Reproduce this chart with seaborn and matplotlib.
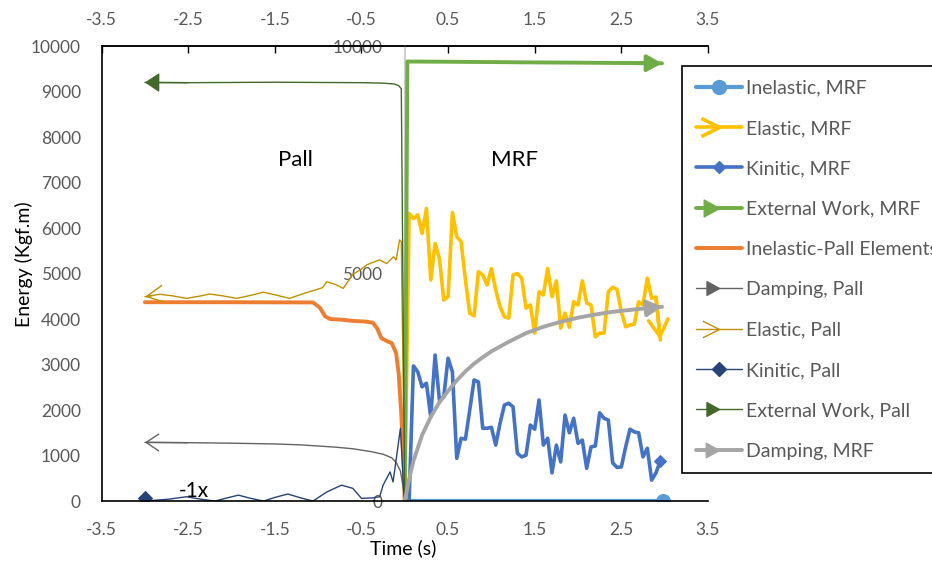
import numpy as np
import matplotlib
matplotlib.use('Agg')
import matplotlib.pyplot as plt
from matplotlib.lines import Line2D
from matplotlib.path import Path
from matplotlib.legend_handler import HandlerLine2D
import seaborn as sns

sns.set_theme(style='white')
plt.rcParams['font.family'] = ['Lato', 'DejaVu Sans']
plt.rcParams['axes.unicode_minus'] = False

# ---- MRF series (time >= 0) ----
t_mrf = np.round(np.arange(60) * 0.05, 2)
elastic_mrf = [0, 6320, 6210, 6290, 5880, 6430, 4860, 5660, 5330, 4420, 4490,
               6340, 5810, 5700, 4860, 4130, 4070, 5040, 4970, 4750, 5110,
               4640, 4270, 4050, 4020, 4970, 5000, 4900, 4240, 4310, 3690,
               4600, 4530, 5110, 4490, 4840, 3800, 4130, 3820, 4380, 4310,
               4840, 4350, 4310, 3610, 3690, 3690, 4600, 4700, 4650, 4160,
               3830, 3870, 3890, 4380, 4310, 4900, 4460, 4480, 3540]
kinetic_mrf = [0, 0, 2970, 2840, 2510, 2590, 1850, 3210, 2220, 2290, 3140, 2840,
               940, 1380, 1360, 2000, 2660, 2620, 1600, 1600, 1620, 1230,
               1710, 2110, 2150, 2070, 1050, 970, 1010, 1670, 1580, 2220,
               1230, 1380, 620, 1230, 860, 1890, 1500, 1820, 1270, 1340,
               720, 1190, 1210, 1940, 1820, 1780, 840, 740, 750, 1190,
               1580, 1520, 1500, 970, 1160, 460, 620, 880]

t_inel_mrf = [0, 2.98]
inel_mrf = [0, 0]

t_ext_mrf = [0, 0.03, 0.5, 1.0, 1.5, 2.0, 2.5, 2.97]
ext_mrf = [0, 9660, 9655, 9648, 9640, 9635, 9628, 9620]

t_damp_mrf = [0, 0.05, 0.1, 0.2, 0.3, 0.4, 0.5, 0.6, 0.7, 0.8, 0.9, 1.0,
              1.2, 1.4, 1.6, 1.8, 2.0, 2.2, 2.4, 2.6, 2.8, 2.97]
damp_mrf = [0, 480, 880, 1450, 1850, 2170, 2420, 2650, 2850, 3020, 3160, 3290,
            3500, 3690, 3830, 3940, 4030, 4100, 4160, 4200, 4240, 4270]

# ---- Pall series (plotted at -1x time) ----
t_inel_pall = [-3.0, -2.0, -1.06, -0.98, -0.92, -0.86, -0.72, -0.6, -0.45, -0.37,
               -0.32, -0.27, -0.2, -0.15, -0.1, -0.07, -0.04, -0.01, 0]
inel_pall = [4370, 4370, 4365, 4250, 4060, 4000, 3985, 3960, 3945, 3920,
             3800, 3580, 3510, 3470, 3250, 2800, 1900, 700, 0]

t_el_pall = [-3.0, -2.92, -2.83, -2.68, -2.52, -2.38, -2.25, -2.1, -1.94, -1.78,
             -1.63, -1.48, -1.33, -1.2, -1.1, -0.95, -0.9, -0.8, -0.71, -0.6,
             -0.5, -0.44, -0.35, -0.29, -0.21, -0.13, -0.1, -0.06, -0.04, 0]
el_pall = [4490, 4515, 4545, 4510, 4455, 4500, 4550, 4510, 4455, 4520,
           4590, 4525, 4455, 4540, 4600, 4690, 4820, 4760, 4675, 4980,
           5100, 5190, 5260, 5300, 5220, 5370, 5300, 5740, 5700, 0]

t_damp_pall = [-3.0, -2.5, -2.0, -1.5, -1.2, -1.0, -0.8, -0.6, -0.4, -0.25,
               -0.15, -0.1, -0.05, -0.02, 0]
damp_pall = [1290, 1283, 1272, 1255, 1235, 1210, 1185, 1150, 1090, 1030,
             950, 850, 660, 330, 0]

t_kin_pall = [-3.0, -2.94, -2.73, -2.52, -2.35, -2.19, -2.05, -1.92, -1.78, -1.63,
              -1.5, -1.35, -1.2, -1.06, -0.9, -0.73, -0.6, -0.5, -0.37, -0.29,
              -0.25, -0.17, -0.135, -0.05, -0.01, 0]
kin_pall = [60, 10, 40, 95, 40, 0, 70, 130, 60, 0,
            80, 155, 70, 0, 200, 350, 280, 60, 70, 95,
            350, 640, 420, 1600, 160, 0]

t_ext_pall = [-3.0, -2.5, -2.0, -1.5, -1.0, -0.5, -0.25, -0.12, -0.07, -0.04, 0]
ext_pall = [9200, 9195, 9200, 9205, 9200, 9195, 9185, 9165, 9130, 9060, 0]

x_ticks = [-3.5, -2.5, -1.5, -0.5, 0.5, 1.5, 2.5, 3.5]
y_ticks = [0, 1000, 2000, 3000, 4000, 5000, 6000, 7000, 8000, 9000, 10000]

C_INEL_MRF = '#5B9BD5'
C_EL_MRF = '#FFC000'
C_KIN_MRF = '#4472C4'
C_EXT_MRF = '#70AD47'
C_INEL_PALL = '#ED7D31'
C_DAMP_PALL = '#636363'
C_EL_PALL = '#BF9000'
C_KIN_PALL = '#264478'
C_EXT_PALL = '#43682B'
C_DAMP_MRF = '#A5A5A5'
GREY_TXT = '#595959'

fig = plt.figure(figsize=(9.32, 5.63), dpi=100)
ax = fig.add_axes([0.109, 0.110, 0.6506, 0.8082])


def line(t, v, color, lw, **kw):
    sns.lineplot(x=t, y=v, ax=ax, color=color, linewidth=lw, estimator=None,
                 sort=False, solid_joinstyle='round', **kw)


def arrow(t, v, color, lw, style, at_end=True, hl=0.4, hw=0.25):
    if at_end:
        xy, xyt = (t[-1], v[-1]), (t[-2], v[-2])
    else:
        xy, xyt = (t[0], v[0]), (t[1], v[1])
    ax.annotate('', xy=xy, xytext=xyt,
                arrowprops=dict(arrowstyle=f'{style},head_length={hl},head_width={hw}',
                                color=color, lw=lw, shrinkA=0, shrinkB=0,
                                mutation_scale=20))


line(t_inel_mrf, inel_mrf, C_INEL_MRF, 3, marker='o', markevery=[-1],
     markersize=10, mec=C_INEL_MRF, mfc=C_INEL_MRF)
line(t_mrf, elastic_mrf, C_EL_MRF, 2.6)
arrow(t_mrf, elastic_mrf, C_EL_MRF, 2.6, '->', hl=0.6, hw=0.35)
line(t_mrf, kinetic_mrf, C_KIN_MRF, 2.6, marker='D', markevery=[-1],
     markersize=6, mec=C_KIN_MRF, mfc=C_KIN_MRF)
line(t_ext_mrf, ext_mrf, C_EXT_MRF, 2.8)
arrow(t_ext_mrf, ext_mrf, C_EXT_MRF, 2.8, '-|>', hl=0.45, hw=0.25)
line(t_inel_pall, inel_pall, C_INEL_PALL, 2.8)
line(t_damp_pall, damp_pall, C_DAMP_PALL, 1.0)
arrow(t_damp_pall, damp_pall, C_DAMP_PALL, 1.0, '->', at_end=False, hl=0.45, hw=0.3)
line(t_el_pall, el_pall, C_EL_PALL, 1.0)
arrow(t_el_pall, el_pall, C_EL_PALL, 1.0, '->', at_end=False, hl=0.6, hw=0.3)
line(t_kin_pall, kin_pall, C_KIN_PALL, 1.0, marker='D', markevery=[0],
     markersize=7, mec=C_KIN_PALL, mfc=C_KIN_PALL)
line(t_ext_pall, ext_pall, C_EXT_PALL, 1.0)
arrow(t_ext_pall, ext_pall, C_EXT_PALL, 1.0, '-|>', at_end=False, hl=0.45, hw=0.3)
line(t_damp_mrf, damp_mrf, C_DAMP_MRF, 2.8)
arrow(t_damp_mrf, damp_mrf, C_DAMP_MRF, 2.8, '-|>', hl=0.45, hw=0.25)

ax.set_xlim(-3.5, 3.5)
ax.set_ylim(0, 10000)
ax.set_xticks(x_ticks)
ax.set_yticks(y_ticks)
ax.tick_params(direction='in', length=5, width=1, color='black',
               labelcolor=GREY_TXT, labelsize=12.5, pad=15)
for s in ['left', 'bottom', 'top']:
    ax.spines[s].set_color('black')
    ax.spines[s].set_linewidth(1.2)
ax.spines['right'].set_visible(False)

top = ax.secondary_xaxis('top')
top.set_xticks(x_ticks)
top.tick_params(direction='in', length=5, width=1, color='black',
                labelcolor=GREY_TXT, labelsize=12.5, pad=13)
top.spines['top'].set_linewidth(1.2)

# secondary vertical axis at time 0
mid = ax.secondary_yaxis(0.5)
mid.set_alignment('left')
mid.set_yticks([0, 5000, 10000])
mid.tick_params(length=0, labelcolor=GREY_TXT, labelsize=12.5, pad=16)
mid.spines['left'].set_color('#D0D0D0')
mid.spines['left'].set_linewidth(1.5)

ax.set_ylabel('Energy (Kgf.m)', fontsize=14, color='black')
ax.yaxis.set_label_coords(-0.113, 0.52)
ax.set_xlabel('Time (s)', fontsize=14, color='black', va='top')
ax.xaxis.set_label_coords(0.497, -0.083)

ax.text(-1.26, 7495, 'Pall', ha='center', va='center', fontsize=16, color='black')
ax.text(1.27, 7495, 'MRF', ha='center', va='center', fontsize=16, color='black')
ax.text(-2.43, 220, '-1x', ha='center', va='center', fontsize=15, color='black')


class EndMarker(HandlerLine2D):
    def get_xdata(self, legend, xdescent, ydescent, width, height, fontsize):
        xd = np.array([-xdescent, -xdescent + width])
        return xd, np.array([-xdescent + width])


CHEV = Path([(-1, 0.5), (0, 0), (-1, -0.5)], [Path.MOVETO, Path.LINETO, Path.LINETO])
TRI = Path([(-1, 0.55), (0, 0), (-1, -0.55), (-1, 0.55)],
           [Path.MOVETO, Path.LINETO, Path.LINETO, Path.CLOSEPOLY])

handles = [
    Line2D([], [], color=C_INEL_MRF, lw=3, marker='o', ms=10, mfc=C_INEL_MRF, mec=C_INEL_MRF),
    Line2D([], [], color=C_EL_MRF, lw=2.6, marker=CHEV, ms=26, mfc='none', mec=C_EL_MRF, mew=2.6),
    Line2D([], [], color=C_KIN_MRF, lw=2.6, marker='D', ms=6, mfc=C_KIN_MRF, mec=C_KIN_MRF),
    Line2D([], [], color=C_EXT_MRF, lw=2.8, marker=TRI, ms=22, mfc=C_EXT_MRF, mec=C_EXT_MRF),
    Line2D([], [], color=C_INEL_PALL, lw=2.8),
    Line2D([], [], color=C_DAMP_PALL, lw=1.0, marker=TRI, ms=18, mfc=C_DAMP_PALL, mec=C_DAMP_PALL),
    Line2D([], [], color=C_EL_PALL, lw=1.0, marker=CHEV, ms=24, mfc='none', mec=C_EL_PALL, mew=1.0),
    Line2D([], [], color=C_KIN_PALL, lw=1.0, marker='D', ms=7, mfc=C_KIN_PALL, mec=C_KIN_PALL),
    Line2D([], [], color=C_EXT_PALL, lw=1.0, marker=TRI, ms=18, mfc=C_EXT_PALL, mec=C_EXT_PALL),
    Line2D([], [], color=C_DAMP_MRF, lw=2.8, marker=TRI, ms=19, mfc=C_DAMP_MRF, mec=C_DAMP_MRF),
]
labels = ['Inelastic, MRF', 'Elastic, MRF', 'Kinitic, MRF', 'External Work, MRF',
          'Inelastic-Pall Elements', 'Damping, Pall', 'Elastic, Pall',
          'Kinitic, Pall', 'External Work, Pall', 'Damping, MRF']

leg = ax.legend(handles, labels, loc='upper left',
                bbox_to_anchor=(682 / 932, 1 - 66 / 563), bbox_transform=fig.transFigure,
                borderaxespad=0, frameon=True, fancybox=False, framealpha=1,
                edgecolor='black', fontsize=14, labelcolor=GREY_TXT,
                handlelength=2.4, handletextpad=0.2, borderpad=0.7,
                labelspacing=1.2, handler_map={Line2D: EndMarker()})
leg.get_frame().set_linewidth(1.2)

fig.savefig('out.png', dpi=100)
